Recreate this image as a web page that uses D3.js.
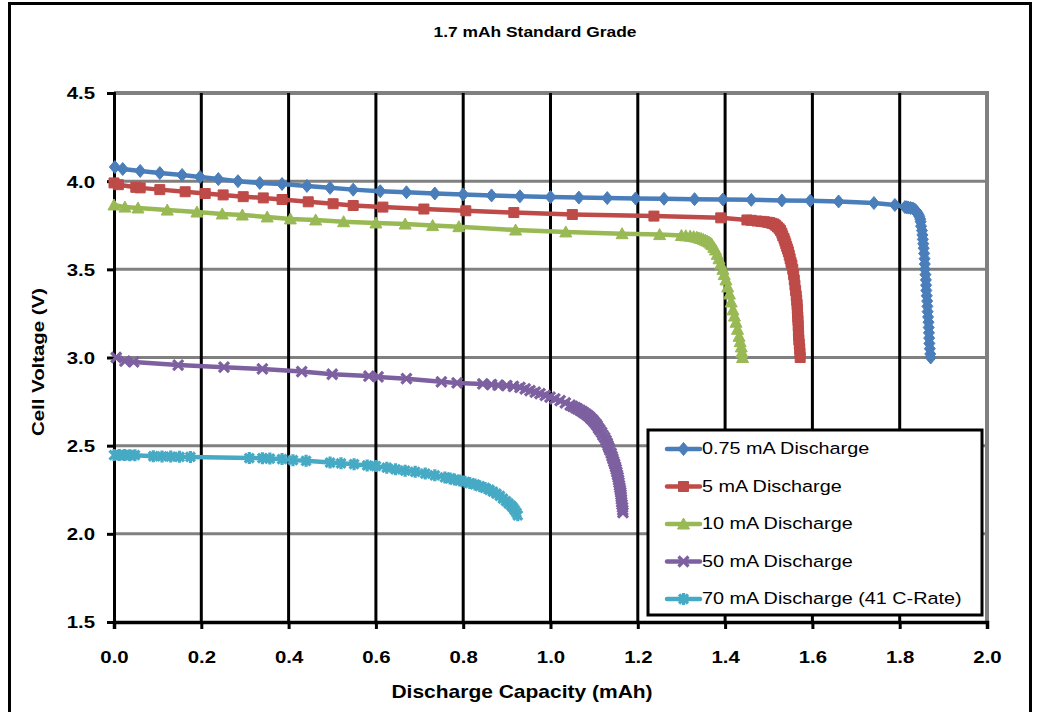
<!DOCTYPE html>
<html><head><meta charset="utf-8">
<script src="https://cdn.jsdelivr.net/npm/d3@7/dist/d3.min.js"></script>
<style>
html,body{margin:0;padding:0;background:#fff;}
svg{display:block;font-family:"Liberation Sans",Arial,sans-serif;}
</style></head>
<body>
<svg id="chart" width="1040" height="712"></svg>
<script>
// ---------- DATA ----------
const chartTitle = "1.7 mAh Standard Grade";
const xTitle = "Discharge Capacity (mAh)";
const yTitle = "Cell Voltage (V)";
const xTickValues = [0,0.2,0.4,0.6,0.8,1.0,1.2,1.4,1.6,1.8,2.0];
const xTickLabels = ["0.0","0.2","0.4","0.6","0.8","1.0","1.2","1.4","1.6","1.8","2.0"];
const yTickValues = [1.5,2.0,2.5,3.0,3.5,4.0,4.5];
const yTickLabels = ["1.5","2.0","2.5","3.0","3.5","4.0","4.5"];
const seriesNames = ["0.75 mA Discharge","5 mA Discharge","10 mA Discharge","50 mA Discharge","70 mA Discharge (41 C-Rate)"];

const discharge075 = [
[0.002,4.08],[0.02,4.069],[0.06,4.058],[0.105,4.046],[0.156,4.035],[0.197,4.024],[0.239,4.012],[0.284,4.0],[0.334,3.99],[0.385,3.984],[0.442,3.973],[0.495,3.962],[0.548,3.952],[0.61,3.943],[0.67,3.937],[0.735,3.93],[0.8,3.925],[0.865,3.919],[0.93,3.914],[1.0,3.91],[1.065,3.907],[1.13,3.904],[1.195,3.902],[1.26,3.9],[1.33,3.898],[1.395,3.896],[1.46,3.894],[1.53,3.891],[1.595,3.889],[1.66,3.885],[1.741,3.876],[1.789,3.865],[1.812,3.853],[1.816,3.852],[1.82,3.85],[1.825,3.848],[1.83,3.845],[1.834,3.84],[1.838,3.83],[1.841,3.82],[1.843,3.81],[1.845,3.8],[1.847,3.785],[1.848,3.77],[1.849,3.745],[1.851,3.72],[1.852,3.695],[1.853,3.67],[1.854,3.645],[1.855,3.62],[1.856,3.59],[1.857,3.56],[1.8575,3.53],[1.858,3.5],[1.859,3.47],[1.86,3.44],[1.8605,3.41],[1.861,3.38],[1.862,3.35],[1.863,3.32],[1.8635,3.29],[1.864,3.26],[1.865,3.23],[1.866,3.2],[1.8665,3.17],[1.867,3.14],[1.8675,3.11],[1.868,3.08],[1.869,3.05],[1.87,3.02],[1.871,3.0]
];
const discharge5 = [
[0.0,3.99],[0.01,3.98],[0.05,3.965],[0.06,3.962],[0.105,3.952],[0.163,3.94],[0.209,3.93],[0.25,3.922],[0.296,3.912],[0.342,3.905],[0.385,3.896],[0.445,3.883],[0.502,3.872],[0.548,3.862],[0.616,3.853],[0.71,3.842],[0.806,3.832],[0.916,3.822],[1.05,3.811],[1.237,3.802],[1.39,3.792],[1.45,3.78],[1.46,3.778],[1.473,3.774],[1.482,3.772],[1.49,3.77],[1.497,3.767],[1.502,3.765],[1.507,3.761],[1.512,3.757],[1.516,3.75],[1.52,3.74],[1.524,3.73],[1.527,3.72],[1.53,3.705],[1.532,3.69],[1.535,3.675],[1.537,3.66],[1.539,3.645],[1.541,3.63],[1.543,3.615],[1.545,3.6],[1.547,3.58],[1.549,3.56],[1.551,3.54],[1.553,3.525],[1.555,3.5],[1.557,3.47],[1.5585,3.44],[1.56,3.41],[1.5615,3.38],[1.563,3.35],[1.564,3.325],[1.565,3.3],[1.5655,3.275],[1.566,3.25],[1.5665,3.23],[1.567,3.21],[1.5675,3.18],[1.568,3.15],[1.5685,3.125],[1.569,3.1],[1.57,3.075],[1.571,3.05],[1.5715,3.025],[1.572,3.0]
];
const discharge10 = [
[0.0,3.865],[0.025,3.853],[0.055,3.848],[0.122,3.836],[0.19,3.825],[0.248,3.814],[0.294,3.808],[0.351,3.797],[0.404,3.786],[0.462,3.78],[0.526,3.77],[0.6,3.763],[0.667,3.757],[0.73,3.748],[0.79,3.742],[0.92,3.723],[1.035,3.712],[1.164,3.702],[1.25,3.697],[1.3,3.692],[1.31,3.69],[1.32,3.688],[1.328,3.685],[1.335,3.682],[1.34,3.678],[1.345,3.675],[1.35,3.67],[1.355,3.665],[1.359,3.66],[1.363,3.655],[1.367,3.648],[1.37,3.64],[1.374,3.625],[1.378,3.61],[1.382,3.585],[1.386,3.56],[1.39,3.53],[1.395,3.5],[1.398,3.47],[1.402,3.44],[1.406,3.4],[1.41,3.36],[1.414,3.315],[1.418,3.27],[1.4215,3.235],[1.425,3.2],[1.4285,3.16],[1.432,3.12],[1.4345,3.09],[1.437,3.06],[1.4385,3.03],[1.44,3.0]
];
const discharge50 = [
[0.005,3.0],[0.025,2.98],[0.045,2.975],[0.147,2.957],[0.252,2.945],[0.34,2.935],[0.43,2.92],[0.5,2.905],[0.584,2.895],[0.605,2.89],[0.67,2.88],[0.75,2.862],[0.786,2.856],[0.845,2.85],[0.865,2.846],[0.88,2.843],[0.9,2.84],[0.915,2.836],[0.93,2.83],[0.942,2.822],[0.953,2.812],[0.965,2.804],[0.976,2.795],[0.988,2.785],[0.999,2.775],[1.01,2.765],[1.022,2.755],[1.034,2.743],[1.045,2.73],[1.051,2.723],[1.057,2.716],[1.062,2.708],[1.068,2.70],[1.073,2.693],[1.077,2.686],[1.082,2.678],[1.086,2.67],[1.09,2.662],[1.093,2.654],[1.097,2.645],[1.1,2.635],[1.104,2.624],[1.107,2.613],[1.11,2.6],[1.113,2.59],[1.117,2.575],[1.12,2.56],[1.124,2.545],[1.127,2.53],[1.13,2.515],[1.132,2.5],[1.134,2.488],[1.136,2.475],[1.139,2.457],[1.141,2.44],[1.143,2.425],[1.145,2.41],[1.147,2.395],[1.149,2.38],[1.1505,2.365],[1.152,2.35],[1.1535,2.335],[1.155,2.32],[1.156,2.305],[1.157,2.29],[1.158,2.275],[1.159,2.26],[1.16,2.248],[1.161,2.235],[1.1615,2.222],[1.162,2.21],[1.1625,2.195],[1.163,2.18],[1.164,2.165],[1.165,2.15],[1.1655,2.135],[1.166,2.12]
];
const discharge70 = [
[0.0,2.447],[0.012,2.447],[0.024,2.447],[0.036,2.446],[0.048,2.446],[0.09,2.44],[0.11,2.439],[0.13,2.438],[0.15,2.437],[0.175,2.436],[0.31,2.43],[0.34,2.429],[0.357,2.427],[0.385,2.424],[0.41,2.418],[0.44,2.414],[0.495,2.404],[0.52,2.4],[0.55,2.395],[0.58,2.388],[0.6,2.384],[0.625,2.375],[0.645,2.366],[0.667,2.358],[0.69,2.352],[0.713,2.342],[0.735,2.332],[0.758,2.32],[0.77,2.314],[0.78,2.308],[0.792,2.302],[0.804,2.295],[0.815,2.288],[0.827,2.28],[0.838,2.27],[0.85,2.26],[0.86,2.25],[0.868,2.24],[0.876,2.228],[0.884,2.215],[0.891,2.2],[0.898,2.185],[0.904,2.172],[0.91,2.16],[0.914,2.148],[0.918,2.135],[0.922,2.12],[0.925,2.105]
];
const seriesData = [discharge075, discharge5, discharge10, discharge50, discharge70];
const seriesColors = ["#4a7ebb","#be4b48","#98b954","#7d60a0","#46aac5"];
const seriesMarkers = ["diamond","square","triangle","x","star"];

// ---------- CHART ----------
const svg = d3.select("#chart");
const SX = 1.2; // horizontal text stretch of the original picture

const x = d3.scaleLinear().domain([0,2]).range([114,987]);
const y = d3.scaleLinear().domain([1.5,4.5]).range([622,93]);

// outer border
svg.append("rect").attr("x",9.5).attr("y",3.5).attr("width",1021).attr("height",800)
  .attr("fill","#fff").attr("stroke","#000").attr("stroke-width",3);

function stretchedText(px, py, str, opts){
  const g = svg.append("g").attr("transform",`translate(${px},${py})`);
  const t = g.append("text").attr("transform",`${opts.rotate?`rotate(${opts.rotate})`:''} scale(${SX},1)`)
    .attr("text-anchor",opts.anchor||"middle")
    .attr("font-size",opts.size).attr("font-weight",opts.weight||"normal")
    .attr("fill","#000").attr("dominant-baseline","central").text(str);
  return t;
}

// title
stretchedText(535, 32, chartTitle, {size:14.5, weight:"bold"});

// horizontal grid lines (grey)
svg.append("g").selectAll("line").data(yTickValues.filter(v=>v>1.5)).join("line")
  .attr("x1",x(0)).attr("x2",x(2)).attr("y1",d=>y(d)).attr("y2",d=>y(d))
  .attr("stroke","#808080").attr("stroke-width",d=>d===4.5?4:3);
// right plot border (grey)
svg.append("line").attr("x1",x(2)).attr("x2",x(2)).attr("y1",y(4.5)-2).attr("y2",y(1.5))
  .attr("stroke","#808080").attr("stroke-width",4);
// vertical grid lines (black)
svg.append("g").selectAll("line").data(xTickValues.filter(v=>v>0 && v<2)).join("line")
  .attr("x1",d=>x(d)).attr("x2",d=>x(d)).attr("y1",y(4.5)).attr("y2",y(1.5))
  .attr("stroke","#000").attr("stroke-width",3);

// axes
const yAxis = d3.axisLeft(y).tickValues(yTickValues).tickFormat((d,i)=>yTickLabels[i]).tickSize(7).tickPadding(0);
const gy = svg.append("g").attr("transform",`translate(${x(0)},0)`).call(yAxis);
gy.select(".domain").attr("stroke","#000").attr("stroke-width",3);
gy.selectAll(".tick line").attr("stroke","#000").attr("stroke-width",3);
gy.selectAll(".tick text").attr("x",0).attr("dy",null).attr("dominant-baseline","central")
  .attr("transform",`translate(-19,0) scale(${SX},1)`).attr("text-anchor","end")
  .attr("font-size",17).attr("font-weight","bold").attr("fill","#000")
  .attr("font-family","'Liberation Sans',Arial,sans-serif");

const xAxis = d3.axisBottom(x).tickValues(xTickValues).tickFormat((d,i)=>xTickLabels[i]).tickSize(7).tickPadding(0);
const gx = svg.append("g").attr("transform",`translate(0,${y(1.5)})`).call(xAxis);
gx.select(".domain").attr("stroke","#000").attr("stroke-width",3.5);
gx.selectAll(".tick line").attr("stroke","#000").attr("stroke-width",3);
gx.selectAll(".tick text").attr("y",0).attr("dy",null).attr("dominant-baseline","central")
  .attr("transform",`translate(0,35) scale(${SX},1)`)
  .attr("font-size",17).attr("font-weight","bold").attr("fill","#000")
  .attr("font-family","'Liberation Sans',Arial,sans-serif");

// axis titles
stretchedText(522, 692, xTitle, {size:17.5, weight:"bold"});
stretchedText(38, 362, yTitle, {size:17, weight:"bold", rotate:-90});

// markers
function markerPath(type){
  switch(type){
    case "diamond": return "M0,-6.5L5.5,0L0,6.5L-5.5,0Z";
    case "square": return "M-5,-5H5V5H-5Z";
    case "triangle": return "M0,-6L6,5H-6Z";
    case "x": return "M-5,-5L5,5M-5,5L5,-5";
    case "star": return "M-4.5,-4.5L4.5,4.5M-4.5,4.5L4.5,-4.5M0,-6V6";
  }
}
function drawMarker(sel, type, color){
  const stroked = (type==="x"||type==="star");
  sel.append("path").attr("d",markerPath(type))
    .attr("fill",stroked?"none":color)
    .attr("stroke",color).attr("stroke-width",stroked?3.2:1)
    .attr("stroke-linejoin","round");
}

const line = d3.line().x(d=>x(d[0])).y(d=>y(d[1]));
const plot = svg.append("g");
seriesData.forEach((data,i)=>{
  const g = plot.append("g");
  g.append("path").datum(data).attr("d",line).attr("fill","none")
    .attr("stroke",seriesColors[i]).attr("stroke-width",4.5)
    .attr("stroke-linejoin","round").attr("stroke-linecap","round");
  g.selectAll("g.m").data(data).join("g").attr("class","m")
    .attr("transform",d=>`translate(${x(d[0])},${y(d[1])})`)
    .each(function(){ drawMarker(d3.select(this), seriesMarkers[i], seriesColors[i]); });
});

// legend
const lg = svg.append("g");
lg.append("rect").attr("x",648).attr("y",430).attr("width",334).attr("height",185)
  .attr("fill","#fff").attr("stroke","#000").attr("stroke-width",3);
seriesNames.forEach((name,i)=>{
  const cy = 449 + i*37.5;
  lg.append("line").attr("x1",667).attr("x2",700).attr("y1",cy).attr("y2",cy)
    .attr("stroke",seriesColors[i]).attr("stroke-width",4.5).attr("stroke-linecap","round");
  const mg = lg.append("g").attr("transform",`translate(683.5,${cy})`);
  drawMarker(mg, seriesMarkers[i], seriesColors[i]);
  const tg = lg.append("g").attr("transform",`translate(702,${cy})`);
  tg.append("text").attr("transform",`scale(${SX},1)`).attr("font-size",16.5)
    .attr("dominant-baseline","central").attr("fill","#000").text(name);
});
</script>
</body></html>
